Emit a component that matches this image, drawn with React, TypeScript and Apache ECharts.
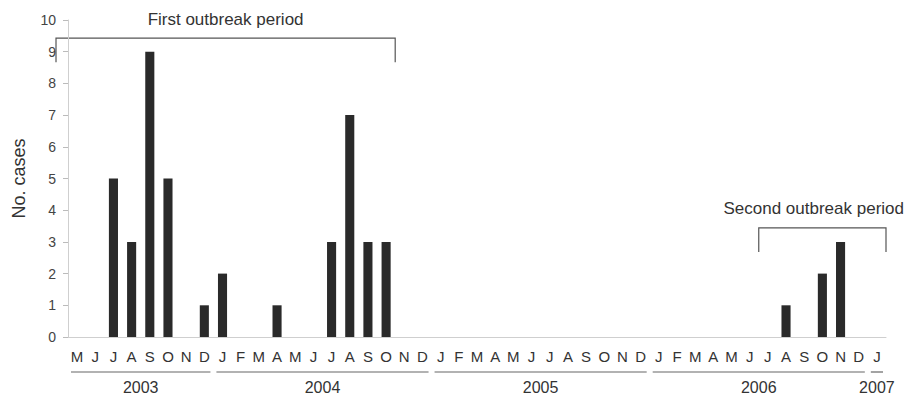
import React, { useEffect, useRef } from "react";
import * as echarts from "echarts";

const monthLabels = [
  "M", "J", "J", "A", "S", "O", "N", "D",
  "J", "F", "M", "A", "M", "J", "J", "A", "S", "O", "N", "D",
  "J", "F", "M", "A", "M", "J", "J", "A", "S", "O", "N", "D",
  "J", "F", "M", "A", "M", "J", "J", "A", "S", "O", "N", "D",
  "J",
];
const yearLabels = ["2003", "2004", "2005", "2006", "2007"];
const monthsPerYear = [8, 12, 12, 12, 1];
const cases = [
  0, 0, 5, 3, 9, 5, 0, 1,
  2, 0, 0, 1, 0, 0, 3, 7, 3, 3, 0, 0,
  0, 0, 0, 0, 0, 0, 0, 0, 0, 0, 0, 0,
  0, 0, 0, 0, 0, 0, 0, 1, 0, 2, 3, 0,
  0,
];
const yTicks = [0, 1, 2, 3, 4, 5, 6, 7, 8, 9, 10];

// brackets: label, start boundary (category units), end boundary, level, bottom
const outbreakLabels = ["First outbreak period", "Second outbreak period"];
const outbreakStart = [-1.16, 37.5];
const outbreakEnd = [17.5, 44.5];
const outbreakLevel = [9.43, 3.44];
const outbreakBottom = [8.67, 2.68];

const categories = monthLabels.map((m, i) => `${m}-${i}`);

export default function App() {
  const ref = useRef<HTMLDivElement>(null);
  useEffect(() => {
    const chart = echarts.init(ref.current!, null, { renderer: "svg" });
    const font = "Liberation Sans, Arial, sans-serif";
    chart.setOption({
      animation: false,
      textStyle: { fontFamily: font },
      grid: { left: 68, right: 21, top: 20, bottom: 60 },
      xAxis: {
        type: "category",
        data: categories,
        boundaryGap: true,
        axisLine: { lineStyle: { color: "#cfcfcf", width: 1 } },
        axisTick: { show: false },
        axisLabel: {
          interval: 0,
          color: "#333",
          fontSize: 15,
          margin: 12,
          fontFamily: font,
          formatter: (_v: string, i: number) => monthLabels[i],
        },
      },
      yAxis: {
        type: "value",
        min: 0,
        max: 10,
        interval: 1,
        name: "No. cases",
        nameLocation: "middle",
        nameGap: 40,
        nameTextStyle: { color: "#333", fontSize: 18, fontFamily: font },
        axisLine: { show: true, lineStyle: { color: "#cfcfcf" } },
        axisTick: { show: true, length: 5, lineStyle: { color: "#bbb" } },
        axisLabel: {
          color: "#444",
          fontSize: 14,
          margin: 12,
          fontFamily: font,
          formatter: (v: number) => (yTicks.includes(v) ? String(v) : ""),
        },
        splitLine: { show: false },
      },
      series: [
        {
          type: "bar",
          data: cases,
          barWidth: "50%",
          itemStyle: { color: "#2a2a2a" },
        },
      ],
    });

    const c0 = chart.convertToPixel({ xAxisIndex: 0 }, categories[0]) as number;
    const c1 = chart.convertToPixel({ xAxisIndex: 0 }, categories[1]) as number;
    const bw = c1 - c0;
    const xAt = (u: number) => c0 + u * bw;
    const yAt = (v: number) => chart.convertToPixel({ yAxisIndex: 0 }, v) as number;
    const y0 = yAt(0);
    const W = chart.getWidth();

    const ctx = document.createElement("canvas").getContext("2d");
    const measure = (t: string, f: string) => {
      if (!ctx) return t.length * 8;
      ctx.font = f;
      return ctx.measureText(t).width;
    };

    const graphics: any[] = [];
    let start = 0;
    yearLabels.forEach((yr, k) => {
      const n = monthsPerYear[k];
      const x1 = xAt(start - 0.5) + 3;
      const x2 = xAt(start + n - 0.5) - 3;
      graphics.push({
        type: "line",
        shape: { x1, y1: y0 + 35, x2, y2: y0 + 35 },
        style: { stroke: "#666", lineWidth: 1.2 },
      });
      graphics.push({
        type: "text",
        x: (x1 + x2) / 2,
        y: y0 + 50,
        style: {
          text: yr,
          fill: "#333",
          font: `16px ${font}`,
          align: "center",
          verticalAlign: "middle",
        },
      });
      start += n;
    });

    outbreakLabels.forEach((lab, k) => {
      const xa = xAt(outbreakStart[k]);
      const xb = xAt(outbreakEnd[k]);
      const yl = yAt(outbreakLevel[k]);
      const yb = yAt(outbreakBottom[k]);
      graphics.push({
        type: "polyline",
        shape: { points: [[xa, yb], [xa, yl], [xb, yl], [xb, yb]] },
        style: { stroke: "#555", lineWidth: 1.2, fill: "none" },
      });
      const f = `17px ${font}`;
      const half = measure(lab, f) / 2;
      const cx = Math.min((xa + xb) / 2, W - 3 - half);
      graphics.push({
        type: "text",
        x: cx,
        y: yl - 19,
        style: {
          text: lab,
          fill: "#333",
          font: f,
          align: "center",
          verticalAlign: "middle",
        },
      });
    });

    chart.setOption({ graphic: graphics });
    return () => chart.dispose();
  }, []);
  return (
    <div
      ref={ref}
      style={{ position: "absolute", left: 0, top: 0, width: 907, height: 397 }}
    />
  );
}
